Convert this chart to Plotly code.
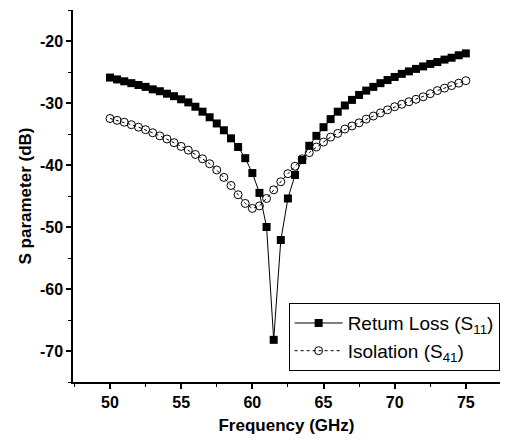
import plotly.graph_objects as go

freq = [50 + 0.5 * i for i in range(51)]

s11 = [-25.9, -26.2, -26.5, -26.8, -27.1, -27.4, -27.8, -28.1, -28.5, -28.9,
       -29.4, -29.9, -30.6, -31.4, -32.3, -33.3, -34.4, -35.7, -37.1, -38.9,
       -41.3, -44.5, -50.0, -68.2, -52.1, -45.4, -41.6, -39.2, -36.9, -35.3,
       -33.9, -32.6, -31.4, -30.4, -29.5, -28.7, -28.0, -27.4, -26.8, -26.3,
       -25.8, -25.3, -24.9, -24.5, -24.1, -23.7, -23.4, -23.0, -22.7, -22.3,
       -22.0]

s41 = [-32.5, -32.8, -33.1, -33.5, -33.9, -34.3, -34.8, -35.3, -35.8, -36.4,
       -37.0, -37.6, -38.3, -39.0, -39.8, -40.8, -42.0, -43.3, -44.8, -46.2,
       -47.0, -46.6, -45.4, -44.0, -42.7, -41.4, -40.2, -39.0, -38.0, -37.1,
       -36.3, -35.5, -34.9, -34.2, -33.7, -33.2, -32.6, -32.1, -31.6, -31.1,
       -30.6, -30.2, -29.8, -29.4, -29.0, -28.5, -28.0, -27.6, -27.2, -26.8,
       -26.4]

x_ticks = [50, 55, 60, 65, 70, 75]
y_ticks = [-70, -60, -50, -40, -30, -20]

fig = go.Figure()
fig.add_trace(go.Scatter(
    x=freq, y=s11, mode="lines+markers", name="Retum Loss (S<sub>11</sub>)",
    line=dict(color="black", width=1),
    marker=dict(symbol="square", size=8, color="black"),
))
fig.add_trace(go.Scatter(
    x=freq, y=s41, mode="lines+markers", name="Isolation (S<sub>41</sub>)",
    line=dict(color="black", width=1, dash="dot"),
    marker=dict(symbol="circle-open", size=8, color="black", line=dict(width=1)),
))

axis_font = dict(family="Liberation Sans", size=16, color="black", weight="bold")
fig.update_layout(
    width=507, height=444,
    margin=dict(l=73, r=7, t=10, b=62),
    paper_bgcolor="white", plot_bgcolor="white",
    showlegend=True,
    legend=dict(
        x=0.505, y=0.212, xanchor="left", yanchor="top",
        bordercolor="black", borderwidth=1, bgcolor="white",
        font=dict(family="Liberation Sans Narrow, Liberation Sans", size=19, color="black"),
        itemwidth=48, tracegroupgap=0,
    ),
)
fig.update_xaxes(
    range=[47.4, 77.4], tickvals=x_ticks, ticktext=[str(v) for v in x_ticks],
    showline=True, linecolor="black", linewidth=1.5, mirror=False,
    ticks="outside", ticklen=5, tickwidth=1.5, tickcolor="black",
    minor=dict(ticks="outside", ticklen=3, tickwidth=1, tickcolor="black", dtick=2.5, tick0=47.5),
    showgrid=False, zeroline=False,
    tickfont=axis_font,
    title=dict(text="Frequency (GHz)", font=dict(family="Liberation Sans", size=17, color="black", weight="bold"), standoff=9),
)
fig.update_yaxes(
    range=[-75, -15], tickvals=y_ticks, ticktext=[str(v) for v in y_ticks],
    showline=True, linecolor="black", linewidth=1.5, mirror=False,
    ticks="outside", ticklen=5, tickwidth=1.5, tickcolor="black",
    minor=dict(ticks="outside", ticklen=3, tickwidth=1, tickcolor="black", dtick=5, tick0=-75),
    showgrid=False, zeroline=False,
    tickfont=axis_font,
    title=dict(text="S parameter (dB)", font=dict(family="Liberation Sans", size=17, color="black", weight="bold"), standoff=4),
)

fig.write_html("out.html")
